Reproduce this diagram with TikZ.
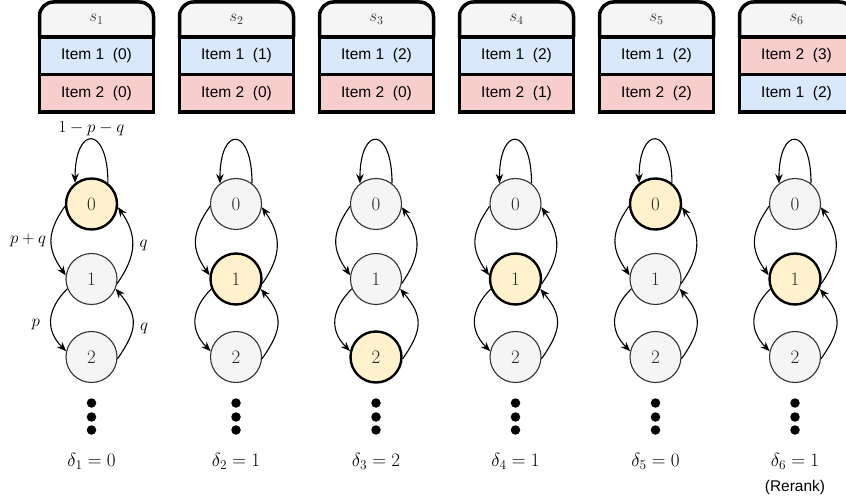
\RequirePackage{fix-cm}
\documentclass[tikz,border=0pt]{standalone}
\usepackage{amsmath}
\usepackage{fontspec}
\newfontfamily\itemfont{Liberation Sans}
\usetikzlibrary{arrows.meta, calc}

\definecolor{hdrfill}{HTML}{F5F5F5}
\definecolor{blufill}{HTML}{DAE8FC}
\definecolor{redfill}{HTML}{F8CECC}
\definecolor{hlfill}{HTML}{FFF2CC}
\definecolor{txtgray}{HTML}{333333}

\tikzset{
	hdr/.style={minimum width=114pt, minimum height=35pt, inner sep=0pt, text=txtgray, font=\fontsize{17}{20}\selectfont},
	itembox/.style={draw, line width=3.5pt, minimum width=114pt, minimum height=37.5pt, inner sep=0pt, font=\itemfont\fontsize{15.5}{18}\selectfont},
	st/.style={circle, draw=txtgray, line width=1.1pt, fill=hdrfill, minimum size=51pt, inner sep=0pt, text=black!85, font=\fontsize{19}{22}\selectfont},
	cur/.style={fill=hlfill, draw=black, line width=2.4pt},
	dotn/.style={circle, fill=black, minimum size=9.5pt, inner sep=0pt},
	trans/.style={-{Stealth[length=9.5pt,width=7.5pt]}, line width=1.1pt},
	lbl/.style={font=\fontsize{17}{20}\selectfont, inner sep=2pt}
}

\begin{document}
\begin{tikzpicture}[x=1pt,y=1pt]
	\useasboundingbox (0,0) rectangle (846,501);
	
	\foreach \i/\bx/\cx/\d/\ta/\fa/\tb/\fb in {
		1/96.5/91.5/0/{Item 1~~(0)}/blufill/{Item 2~~(0)}/redfill,
		2/236.5/236/1/{Item 1~~(1)}/blufill/{Item 2~~(0)}/redfill,
		3/376.5/376/2/{Item 1~~(2)}/blufill/{Item 2~~(0)}/redfill,
		4/516.5/515.5/1/{Item 1~~(2)}/blufill/{Item 2~~(1)}/redfill,
		5/656.5/655.5/0/{Item 1~~(2)}/blufill/{Item 2~~(2)}/redfill,
		6/796.5/795/1/{Item 2~~(3)}/redfill/{Item 1~~(2)}/blufill}
	{
		% state box
		\filldraw[fill=hdrfill, line width=3.5pt, rounded corners=14pt] (\bx-57,464) -- (\bx-57,499) -- (\bx+57,499) -- (\bx+57,464);
		\node[hdr] (s\i) at (\bx,481.5) {$s_{\i}$};
		\node[itembox, fill=\fa] (s\i a) at (\bx,445.25) {\ta};
		\node[itembox, fill=\fb] (s\i b) at (\bx,407.75) {\tb};
		
		% chain
		\foreach \k/\y in {0/297,1/222,2/144}{
			\ifnum\k=\d
			\node[st,cur] (n\i\k) at (\cx,\y) {$\k$};
			\else
			\node[st] (n\i\k) at (\cx,\y) {$\k$};
			\fi
		}
		\draw[trans] (n\i0.52) .. controls +(0,58) and +(0,58) .. (n\i0.128) coordinate[pos=.5] (m\i o);
		\draw[trans] (n\i0.185) to[out=235, in=125, looseness=1.2] coordinate[pos=.5] (m\i a) (n\i1.172);
		\draw[trans] (n\i1.350) to[out=55, in=-55, looseness=1.15] coordinate[pos=.5] (m\i b) (n\i0.353);
		\draw[trans] (n\i1.202) to[out=225, in=135, looseness=1.2] coordinate[pos=.5] (m\i c) (n\i2.167);
		\draw[trans] (n\i2.356) to[out=55, in=-50, looseness=1.3] coordinate[pos=.5] (m\i d) (n\i1.338);
		
		\node[dotn] (dt\i a) at (\cx,98) {};
		\node[dotn] (dt\i b) at (\cx,84) {};
		\node[dotn] (dt\i c) at (\cx,71) {};
		
		\node[lbl, font=\fontsize{19}{22}\selectfont] (dl\i) at (\cx,40) {$\delta_{\i}=\d$};
	}
	
	% transition probabilities
	\node[lbl, above=1pt] (l0) at (m1o) {$1-p-q$};
	\node[lbl, left=3pt] (l1) at (m1a) {$p+q$};
	\node[lbl, right=5pt] (l2) at (m1b) {$q$};
	\node[lbl, left=9pt, yshift=-5pt] (l3) at (m1c) {$p$};
	\node[lbl, right=5pt, yshift=-5pt] (l4) at (m1d) {$q$};
	
	\node[font=\itemfont\fontsize{15.5}{18}\selectfont] (rr) at (795,14) {(Rerank)};
	
\end{tikzpicture}
\end{document}
